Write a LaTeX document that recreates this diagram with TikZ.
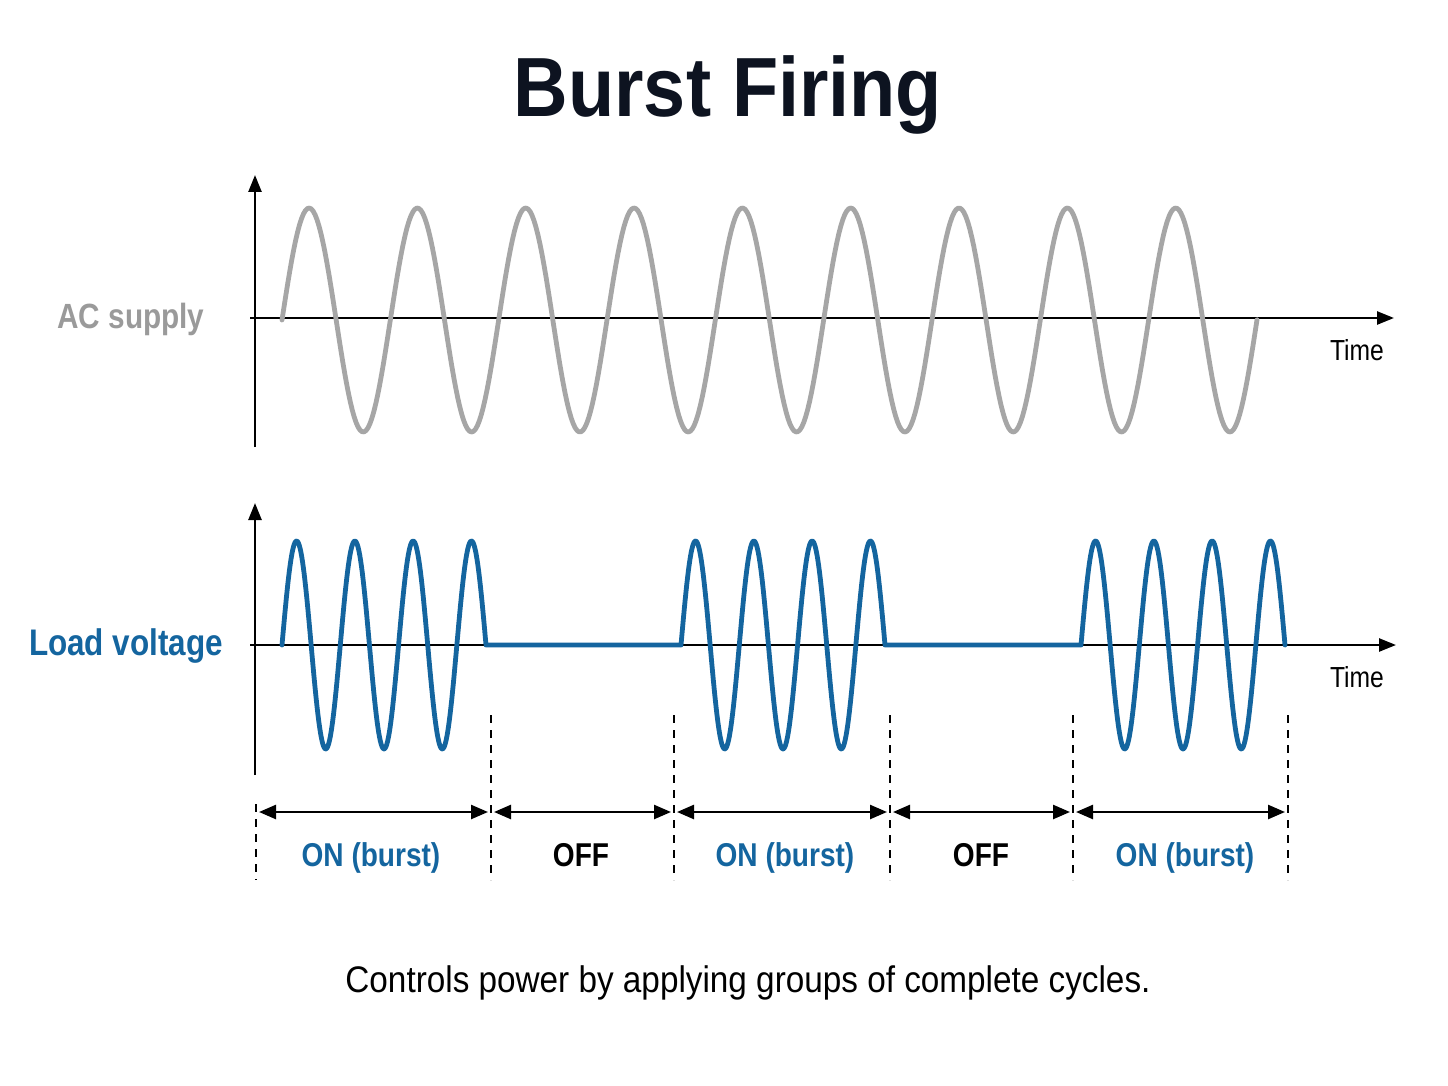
\documentclass[tikz,border=0pt]{standalone}
\usepackage{fontspec}
\usetikzlibrary{arrows.meta}
\newfontfamily\condfont[FakeStretch=0.85]{Liberation Sans}
\newfontfamily\titlefont[FakeStretch=0.9]{Liberation Sans}
\newfontfamily\capfont[FakeStretch=0.9]{Liberation Sans}
\definecolor{wavegray}{HTML}{A6A6A6}
\definecolor{labgray}{HTML}{9A9A9A}
\definecolor{loadblue}{HTML}{14659F}
\definecolor{titleink}{HTML}{0D1320}
\begin{document}
\begin{tikzpicture}[x=1pt,y=-1pt,
  axis/.style={line width=2.5pt,black,-{Triangle[length=17pt,width=13pt]}},
  dim/.style={line width=2.5pt,black,{Triangle[length=17pt,width=14pt]}-{Triangle[length=17pt,width=14pt]}},
  guide/.style={line width=1.6pt,black,dash pattern=on 8pt off 7pt},
  graywave/.style={line width=4.8pt,wavegray,line cap=round,line join=round},
  bluewave/.style={line width=4.8pt,loadblue,line cap=round,line join=round},
  lab/.style={inner sep=0pt,anchor=base},
  onlab/.style={lab,font=\condfont\bfseries\fontsize{33}{33}\selectfont,text=loadblue},
  offlab/.style={lab,font=\condfont\bfseries\fontsize{33}{33}\selectfont,text=black},
  timelab/.style={lab,font=\condfont\fontsize{29}{29}\selectfont,text=black}]
\useasboundingbox[fill=white] (0,0) rectangle (1448,1086);

% title
\node[lab,font=\titlefont\bfseries\fontsize{84}{84}\selectfont,text=titleink] (title) at (728,117) {Burst Firing};

% top plot axes
\coordinate (ya1) at (255,447);
\coordinate (yt1) at (255,175);
\coordinate (xa1) at (250,318);
\coordinate (xt1) at (1394,318);
\draw[axis] (ya1) -- (yt1);
\draw[axis] (xa1) -- (xt1);
\node[lab,font=\condfont\bfseries\fontsize{35}{35}\selectfont,text=labgray] (aclab) at (131,328) {AC supply};
\node[timelab] (time1) at (1357,360) {Time};
\draw[graywave] plot[domain=282:1257,samples=500] (\x,{320-112*sin(3.3232*(\x-282))});

% bottom plot axes
\coordinate (ya2) at (255,775);
\coordinate (yt2) at (255,503);
\coordinate (xa2) at (250,645);
\coordinate (xt2) at (1396,645);
\draw[axis] (ya2) -- (yt2);
\draw[axis] (xa2) -- (xt2);
\node[lab,font=\condfont\bfseries\fontsize{37}{37}\selectfont,text=loadblue] (loadlab) at (126,655) {Load voltage};
\node[timelab] (time2) at (1357,687) {Time};
\draw[bluewave]
  plot[domain=282:486,samples=250] (\x,{645-104*sin(6.1765*(\x-282))})
  -- plot[domain=681:885,samples=250] (\x,{645-104*sin(6.1765*(\x-681))})
  -- plot[domain=1081:1285,samples=250] (\x,{645-104*sin(6.1765*(\x-1081))});

% guide lines
\foreach \n/\xx/\yy in {0/256/804,1/491/715,2/674/715,3/890/715,4/1073/715,5/1288/715}{
  \coordinate (gt\n) at (\xx,\yy);
  \coordinate (gb\n) at (\xx,880);
  \coordinate (al\n) at (\xx+3,812);
  \coordinate (ar\n) at (\xx-3,812);
  \draw[guide] (gt\n) -- (gb\n);
}
\draw[dim] (al0) -- (ar1);
\draw[dim] (al1) -- (ar2);
\draw[dim] (al2) -- (ar3);
\draw[dim] (al3) -- (ar4);
\draw[dim] (al4) -- (ar5);

\node[onlab] (on1) at (371,866) {ON (burst)};
\node[offlab] (off1) at (581,866) {OFF};
\node[onlab] (on2) at (785,866) {ON (burst)};
\node[offlab] (off2) at (981,866) {OFF};
\node[onlab] (on3) at (1185,866) {ON (burst)};

% caption
\node[lab,font=\capfont\fontsize{37}{37}\selectfont,text=black] (caption) at (748,992) {Controls power by applying groups of complete cycles.};
\end{tikzpicture}
\end{document}
